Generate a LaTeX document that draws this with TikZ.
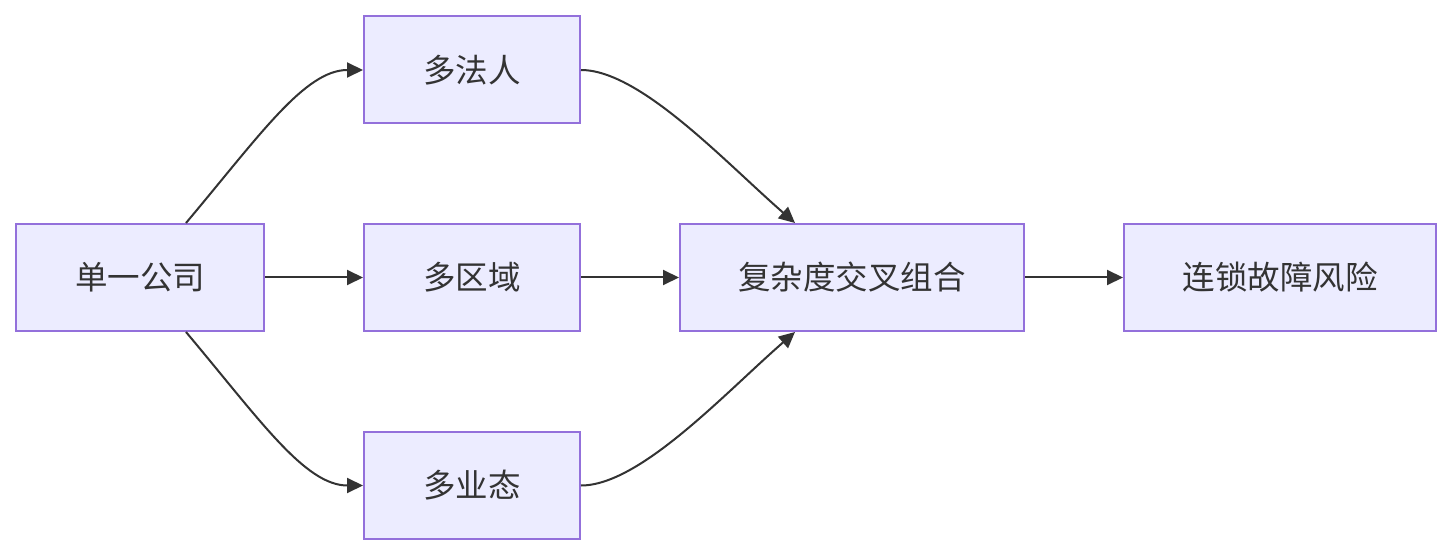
\documentclass[tikz,border=0pt]{standalone}
\usepackage{fontspec}
\setmainfont{Noto Sans CJK SC}
\usepackage{tikz}
\usetikzlibrary{arrows.meta}
\definecolor{boxfill}{HTML}{ECECFF}
\definecolor{boxline}{HTML}{9370DB}
\definecolor{ink}{HTML}{333333}
\tikzset{
  box/.style={draw=boxline,fill=boxfill,line width=2pt,minimum height=107pt,inner sep=0pt,text=ink,font=\fontsize{32.5}{38}\selectfont},
  link/.style={draw=ink,line width=2pt,-{Triangle[length=16pt,width=15pt]}}
}

\begin{document}
\begin{tikzpicture}[x=1pt,y=-1pt]
\useasboundingbox (0,0) rectangle (1452,556);
\node[box,minimum width=248pt] (firm) at (140,277.5) {单一公司};
\node[box,minimum width=216pt] (legal) at (472,70) {多法人};
\node[box,minimum width=216pt] (region) at (472,277.5) {多区域};
\node[box,minimum width=216pt] (biz) at (472,485.5) {多业态};
\node[box,minimum width=344pt] (mix) at (852,277.5) {复杂度交叉组合};
\node[box,minimum width=312pt] (risk) at (1280,277.5) {连锁故障风险};
\draw[link] ([xshift=46pt]firm.north) .. controls (260,135) and (305,70) .. (legal.west);
\draw[link] (firm) -- (region);
\draw[link] ([xshift=46pt]firm.south) .. controls (260,420) and (305,485.5) .. (biz.west);
\draw[link] (legal.east) .. controls (640,70) and (725,162) .. ([xshift=-57pt]mix.north);
\draw[link] (region) -- (mix);
\draw[link] (biz.east) .. controls (640,485.5) and (725,393) .. ([xshift=-57pt]mix.south);
\draw[link] (mix) -- (risk);
\end{tikzpicture}
\end{document}
